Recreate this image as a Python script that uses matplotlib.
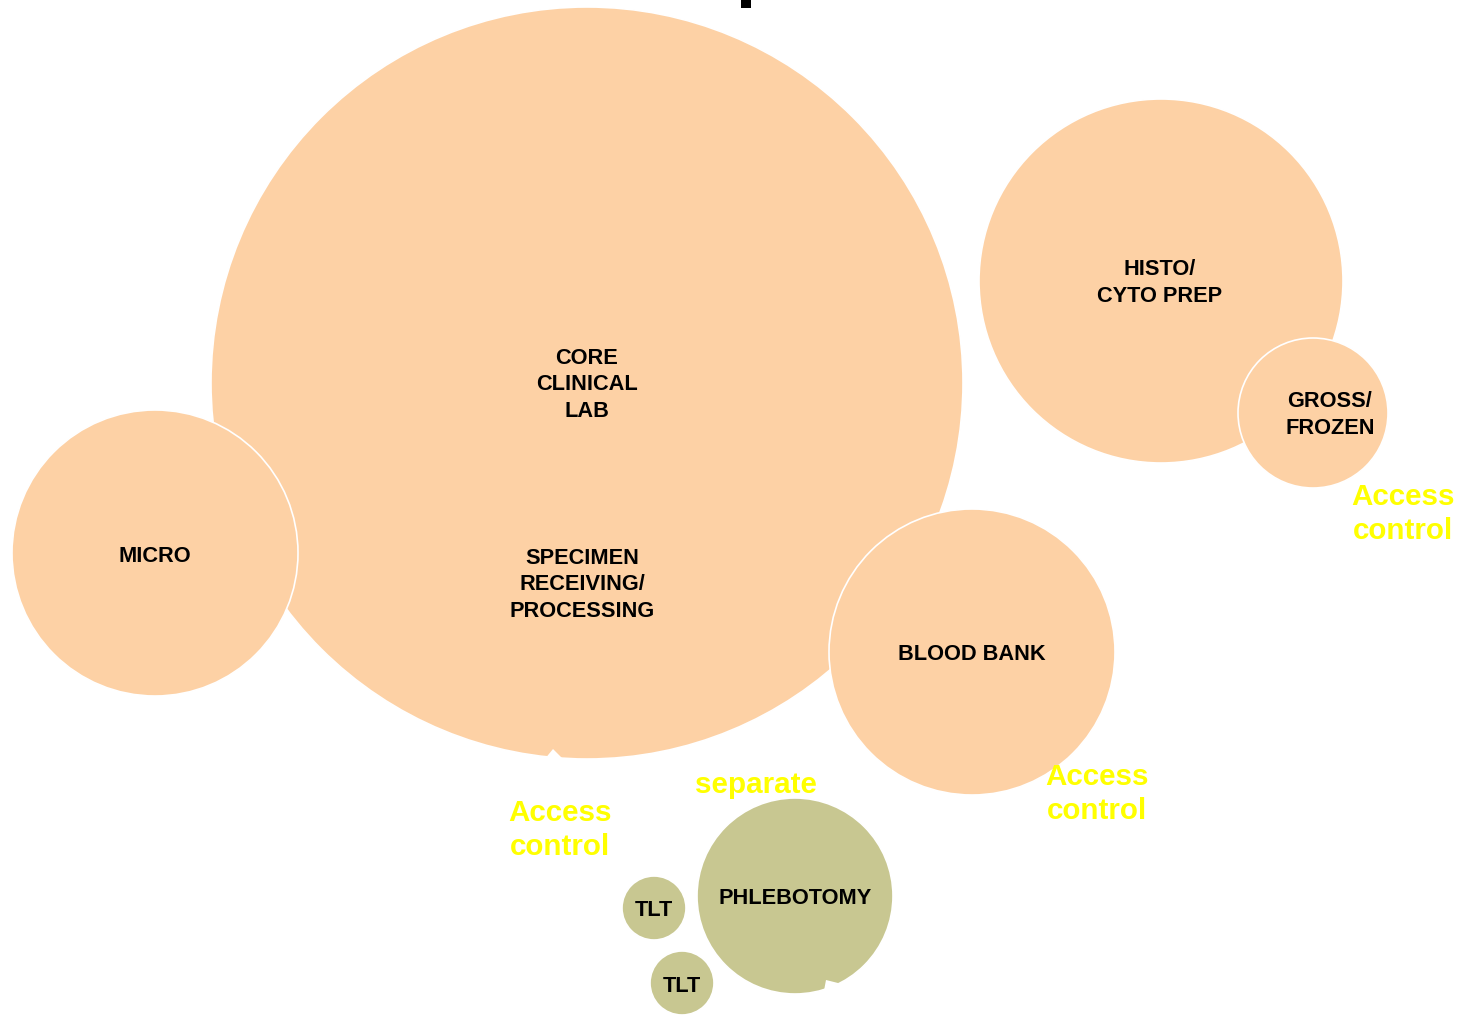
import matplotlib
matplotlib.use("Agg")
import matplotlib.pyplot as plt
from matplotlib.patches import Circle, Polygon, Rectangle

plt.rcParams['font.family'] = ['Liberation Sans', 'DejaVu Sans']

# circles: label, centre x, centre y, radius (pixel space, y down), group
labels = ["CORE\nCLINICAL\nLAB", "MICRO", "BLOOD BANK", "HISTO/\nCYTO PREP",
          "GROSS/\nFROZEN", "PHLEBOTOMY", "TLT", "TLT"]
cx = [587, 155, 972, 1161, 1313, 795, 654, 682]
cy = [383, 553, 652, 281, 413, 896, 908, 983]
radius = [376, 143, 143, 182, 75, 98, 32, 32]
group = ["lab", "lab", "lab", "lab", "lab", "patient", "patient", "patient"]

# label anchor positions (some labels sit off the circle centre)
label_x = [587, 155, 972, 1160, 1330, 795, 654, 682]
label_y = [385, 556, 654, 283, 415, 899, 911, 986]

# extra label inside the core circle
extra_label = "SPECIMEN\nRECEIVING/\nPROCESSING"
extra_xy = (582, 585)

# yellow annotations
notes = ["Access\ncontrol", "Access\ncontrol", "Access\ncontrol", "separate"]
note_x = [1403, 1097, 560, 756]
note_y = [514, 794, 830, 785]

colors = {"lab": "#FDD1A5", "patient": "#C8C791"}

fig = plt.figure(figsize=(14.66, 10.15), dpi=100)
ax = fig.add_axes([0, 0, 1, 1])
ax.set_xlim(0, 1466)
ax.set_ylim(1015, 0)
ax.set_aspect('equal')
ax.axis('off')

for i in range(len(labels)):
    ax.add_patch(Circle((cx[i], cy[i]), radius[i], facecolor=colors[group[i]],
                        edgecolor='white', linewidth=1.2, zorder=i + 1))
    ax.text(label_x[i], label_y[i], labels[i], ha='center', va='center',
            fontsize=15.7, fontweight='bold', linespacing=1.32, zorder=20)

ax.text(extra_xy[0], extra_xy[1], extra_label, ha='center', va='center',
        fontsize=15.7, fontweight='bold', linespacing=1.32, zorder=20)

# small pointer notches cut into core and phlebotomy circles
ax.add_patch(Polygon([(544, 760), (553, 749), (564, 760)], closed=True,
                     facecolor='white', edgecolor='none', zorder=15))
ax.add_patch(Polygon([(823, 996), (826, 980), (842, 984), (850, 996)], closed=True,
                     facecolor='white', edgecolor='none', zorder=15))

for t, x, y in zip(notes, note_x, note_y):
    ax.text(x, y, t, ha='center', va='center', fontsize=21.3, fontweight='bold',
            color='#FFFF00', linespacing=1.29, zorder=20)

# clipped title fragment at the top edge
ax.add_patch(Rectangle((741, 0), 10, 8, facecolor='black', edgecolor='none', zorder=20))

fig.savefig("out.png", dpi=100)
